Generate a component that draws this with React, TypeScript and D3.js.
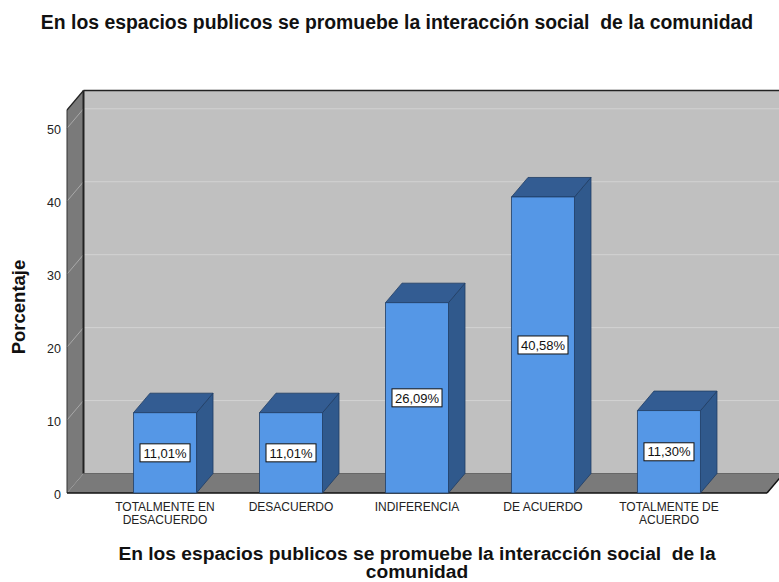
import React from "react";
import * as d3 from "d3";

const categories: string[][] = [
  ["TOTALMENTE EN", "DESACUERDO"],
  ["DESACUERDO"],
  ["INDIFERENCIA"],
  ["DE ACUERDO"],
  ["TOTALMENTE DE", "ACUERDO"],
];
const values: number[] = [11.01, 11.01, 26.09, 40.58, 11.3];
const valueLabels: string[] = ["11,01%", "11,01%", "26,09%", "40,58%", "11,30%"];
const yTicks: number[] = [0, 10, 20, 30, 40, 50];
const title = "En los espacios publicos se promuebe la interacción social  de la comunidad";
const xTitleLines: string[] = ["En los espacios publicos se promuebe la interacción social  de la", "comunidad"];
const yTitle = "Porcentaje";

const W = 779;
const H = 582;
const FONT = "'Liberation Sans', Arial, Helvetica, sans-serif";

export default function App() {
  const x0 = 67;
  const x1 = 767;
  const dx = 16.5;
  const dy = 19.5;
  const y = d3.scaleLinear().domain([0, 52.5]).range([493, 110]);
  const x = d3
    .scalePoint<number>()
    .domain(values.map((_, i) => i))
    .range([x0, x1])
    .padding(0.778);
  const barW = 63;
  const yBase = y(0);
  const yTop = y(52.5);

  const pts = (p: [number, number][]) => p.map((q) => q.join(",")).join(" ");

  return (
    <svg
      width={W}
      height={H}
      style={{ position: "absolute", left: 0, top: 0, background: "#fff" }}
      fontFamily={FONT}
    >
      {/* back wall */}
      <rect x={x0 + dx} y={yTop - dy} width={x1 - x0 + 20} height={yBase - yTop} fill="#c0c0c0" />
      {yTicks
        .filter((t) => t > 0)
        .map((t) => (
          <line
            key={"g" + t}
            x1={x0 + dx}
            x2={x1 + dx + 10}
            y1={y(t) - dy}
            y2={y(t) - dy}
            stroke="#d2d2d2"
            strokeWidth={1}
          />
        ))}
      {/* left wall */}
      <polygon
        points={pts([
          [x0, yTop],
          [x0 + dx, yTop - dy],
          [x0 + dx, yBase - dy],
          [x0, yBase],
        ])}
        fill="#7a7a7a"
      />
      {yTicks
        .filter((t) => t > 0)
        .map((t) => (
          <line
            key={"lg" + t}
            x1={x0}
            x2={x0 + dx}
            y1={y(t)}
            y2={y(t) - dy}
            stroke="#a9a9a9"
            strokeWidth={1}
          />
        ))}
      {/* floor */}
      <polygon
        points={pts([
          [x0, yBase],
          [x1, yBase],
          [x1 + dx, yBase - dy],
          [x0 + dx, yBase - dy],
        ])}
        fill="#7a7a7a"
      />
      {/* edges */}
      <line x1={x0 + dx} x2={x0 + dx} y1={yTop - dy} y2={yBase - dy} stroke="#222" strokeWidth={2} />
      <line x1={x0 + dx} x2={W + 5} y1={yTop - dy} y2={yTop - dy} stroke="#222" strokeWidth={1.5} />
      <line x1={x0} x2={x0 + dx} y1={yTop} y2={yTop - dy} stroke="#222" strokeWidth={1.2} />
      <line x1={x0} x2={x0} y1={yTop} y2={yBase} stroke="#333" strokeWidth={1} />
      <line x1={x0} x2={x1} y1={yBase} y2={yBase} stroke="#111" strokeWidth={1.5} />
      <line x1={x1} x2={x1 + dx} y1={yBase} y2={yBase - dy} stroke="#111" strokeWidth={1.5} />
      <line x1={x0 + dx} x2={x1 + dx} y1={yBase - dy} y2={yBase - dy} stroke="#555" strokeWidth={0.8} />

      {/* y tick labels */}
      {yTicks.map((t) => (
        <text key={"t" + t} x={x0 - 6} y={y(t)} dy="0.5em" textAnchor="end" fontSize={12.5} fill="#222">
          {t}
        </text>
      ))}

      {/* bars */}
      {values.map((v, i) => {
        const cx = x(i) as number;
        const l = cx - barW / 2;
        const r = cx + barW / 2;
        const t = y(v);
        return (
          <g key={"b" + i} stroke="#1f3c63" strokeWidth={0.8} strokeLinejoin="round">
            <polygon
              points={pts([
                [r, t],
                [r + dx, t - dy],
                [r + dx, yBase - dy],
                [r, yBase],
              ])}
              fill="#30598c"
            />
            <polygon
              points={pts([
                [l, t],
                [l + dx, t - dy],
                [r + dx, t - dy],
                [r, t],
              ])}
              fill="#335c92"
            />
            <rect x={l} y={t} width={barW} height={yBase - t} fill="#5597e6" />
          </g>
        );
      })}

      {/* value labels */}
      {values.map((v, i) => {
        const cx = x(i) as number;
        const cy = (y(v) + yBase) / 2;
        const bw = 50;
        const bh = 18;
        return (
          <g key={"vl" + i}>
            <rect x={cx - bw / 2} y={cy - bh / 2} width={bw} height={bh} fill="#fff" stroke="#111" strokeWidth={1} />
            <text x={cx} y={cy} dy="0.36em" textAnchor="middle" fontSize={13} fill="#111">
              {valueLabels[i]}
            </text>
          </g>
        );
      })}

      {/* category labels */}
      {categories.map((lines, i) => (
        <text key={"c" + i} x={x(i) as number} y={511} textAnchor="middle" fontSize={12} fill="#222">
          {lines.map((ln, j) => (
            <tspan key={j} x={x(i) as number} dy={j === 0 ? 0 : 13}>
              {ln}
            </tspan>
          ))}
        </text>
      ))}

      {/* titles */}
      <text x={397} y={29} textAnchor="middle" fontSize={19.4} fontWeight="bold" fill="#111" style={{ whiteSpace: "pre" }}>
        {title}
      </text>
      <text x={417} y={560} textAnchor="middle" fontSize={19.2} fontWeight="bold" fill="#111" style={{ whiteSpace: "pre" }}>
        {xTitleLines.map((ln, j) => (
          <tspan key={j} x={417} dy={j === 0 ? 0 : 18}>
            {ln}
          </tspan>
        ))}
      </text>
      <text
        transform="translate(25,307) rotate(-90)"
        textAnchor="middle"
        fontSize={18.5}
        fontWeight="bold"
        fill="#111"
      >
        {yTitle}
      </text>
    </svg>
  );
}
